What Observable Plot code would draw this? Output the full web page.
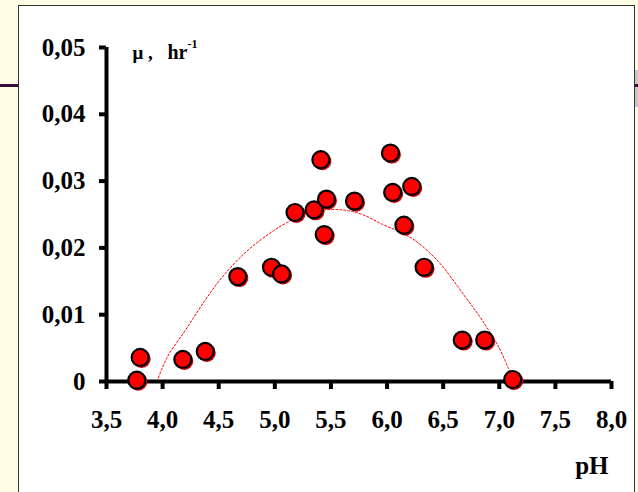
<!DOCTYPE html>
<html><head><meta charset="utf-8">
<script src="https://cdn.jsdelivr.net/npm/d3@7"></script>
<script src="https://cdn.jsdelivr.net/npm/@observablehq/plot@0.6"></script>
<style>
html,body{margin:0;padding:0;width:638px;height:492px;overflow:hidden;background:#FFFDE4;}
#panel{position:absolute;left:18px;top:5px;width:617px;height:500px;background:#fff;border:1.5px solid #333;box-sizing:border-box;}
.band{position:absolute;height:3px;background:#3b0d3b;top:84px}
#chart{position:absolute;left:0;top:0;}
</style></head>
<body>
<div class="band" style="left:0;width:18px"></div>
<div style="position:absolute;left:635px;top:70px;width:3px;height:37px;background:#c8c8c8"></div>
<div class="band" style="left:635px;width:3px"></div>
<div id="panel"></div>
<div id="chart"></div>
<script>
// measured points: pH and specific growth rate μ (hr^-1)
const pH = [3.77, 3.80, 4.18, 4.38, 4.67, 4.97, 5.06, 5.18, 5.35, 5.41, 5.44, 5.46, 5.71, 6.03, 6.05, 6.15, 6.22, 6.33, 6.67, 6.87, 7.12];
const mu = [0.0002, 0.0036, 0.0033, 0.0045, 0.0157, 0.0171, 0.0161, 0.0253, 0.0257, 0.0332, 0.0220, 0.0273, 0.0270, 0.0342, 0.0283, 0.0234, 0.0292, 0.0171, 0.0062, 0.0062, 0.0003];
// dashed trend curve
const curvePH = [3.95, 4.04, 4.22, 4.38, 4.53, 4.75, 4.99, 5.11, 5.25, 5.40, 5.60, 5.78, 5.95, 6.10, 6.25, 6.46, 6.70, 6.85, 7.00, 7.08, 7.13];
const curveMu = [0.0000, 0.0036, 0.0081, 0.0122, 0.0156, 0.0195, 0.0226, 0.0238, 0.0250, 0.0256, 0.0257, 0.0250, 0.0236, 0.0225, 0.0211, 0.0179, 0.0126, 0.0091, 0.0050, 0.0020, 0.0000];
const xTicks = [3.5, 4.0, 4.5, 5.0, 5.5, 6.0, 6.5, 7.0, 7.5, 8.0];
const yTicks = [0, 0.01, 0.02, 0.03, 0.04, 0.05];

const points = pH.map((x, i) => ({x, y: mu[i]}));
const curve = curvePH.map((x, i) => ({x, y: curveMu[i]}));

const chart = Plot.plot({
  width: 638, height: 492,
  marginLeft: 106, marginRight: 27, marginTop: 47, marginBottom: 111,
  style: {background: "transparent", fontFamily: "'Liberation Serif', 'Times New Roman', serif", fontWeight: "bold", color: "#000"},
  x: {domain: [3.5, 8.0]},
  y: {domain: [0, 0.05]},
  marks: [
    Plot.line(curve, {x: "x", y: "y", curve: "catmull-rom", stroke: "#ff0000", strokeWidth: 1, strokeDasharray: "2,2"}),
    Plot.axisX({ticks: xTicks, tickFormat: d => d.toFixed(1).replace(".", ","), tickSize: 8, tickPadding: 21, strokeWidth: 4, fontSize: 25, label: null}),
    Plot.axisY({ticks: yTicks, tickFormat: d => d === 0 ? "0" : d.toFixed(2).replace(".", ","), tickSize: 7, tickPadding: 14, strokeWidth: 4, fontSize: 25, label: null}),
    Plot.ruleX([3.5], {y1: 0, y2: 0.05, strokeWidth: 4, stroke: "#000"}),
    Plot.ruleY([0], {x1: 3.5, x2: 8.0, strokeWidth: 4, stroke: "#000"}),
    Plot.dot(points, {x: "x", y: "y", r: 9, fill: "#d00000", stroke: "none", dx: 1.5, dy: 1.5}),
    Plot.dot(points, {x: "x", y: "y", r: 8.5, fill: "#ff0000", stroke: "#000", strokeWidth: 2.2}),
    Plot.text(["μ ,"], {frameAnchor: "top-left", dx: 26, dy: -2, fontSize: 19, textAnchor: "start"}),
    Plot.text(["hr"], {frameAnchor: "top-left", dx: 61, dy: -3, fontSize: 20, textAnchor: "start"}),
    Plot.text(["-1"], {frameAnchor: "top-left", dx: 81, dy: -8, fontSize: 12, textAnchor: "start"}),
    Plot.text(["pH"], {frameAnchor: "bottom-right", dx: -3, dy: 92, fontSize: 25, textAnchor: "end"})
  ]
});
document.getElementById("chart").append(chart);
</script>
</body></html>
